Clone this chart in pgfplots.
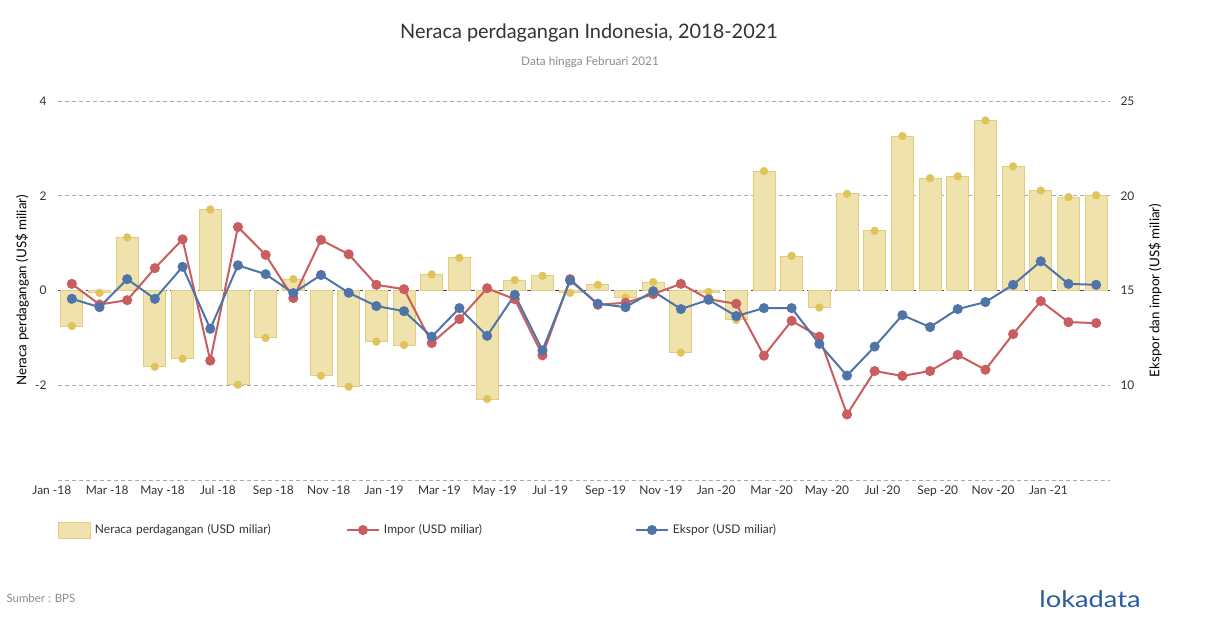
\documentclass[border=0pt]{standalone}
\usepackage{fontspec}
\setmainfont{Lato}
\usepackage{pgfplots}
\usepackage{pgfplotstable}
\pgfplotsset{compat=1.18}
\definecolor{barfill}{HTML}{F0E2AC}
\definecolor{baredge}{HTML}{E2CC80}
\definecolor{bardot}{HTML}{E0C35A}
\definecolor{impred}{HTML}{C95D60}
\definecolor{ekblue}{HTML}{4F75A8}
\definecolor{gridgray}{HTML}{AAAAAA}
\definecolor{txt}{HTML}{333333}
\definecolor{logoblue}{HTML}{2B5C9E}
\pgfplotstableread{
i bal imp eks
0 -0.75 15.35 14.56
1 -0.05 14.26 14.12
2 1.12 14.49 15.60
3 -1.61 16.18 14.56
4 -1.44 17.70 16.25
5 1.71 11.30 12.98
6 -1.99 18.35 16.33
7 -1.00 16.88 15.86
8 0.24 14.60 14.86
9 -1.80 17.67 15.82
10 -2.03 16.91 14.88
11 -1.08 15.30 14.18
12 -1.15 15.07 13.91
13 0.34 12.23 12.56
14 0.69 13.49 14.07
15 -2.29 15.12 12.61
16 0.22 14.54 14.77
17 0.31 11.58 11.84
18 -0.05 15.60 15.53
19 0.12 14.25 14.30
20 -0.15 14.35 14.12
21 0.18 14.81 14.96
22 -1.31 15.35 14.02
23 -0.03 14.54 14.51
24 -0.62 14.30 13.65
25 2.52 11.56 14.07
26 0.73 13.40 14.07
27 -0.36 12.56 12.18
28 2.04 8.46 10.51
29 1.26 10.75 12.04
30 3.26 10.49 13.70
31 2.37 10.75 13.07
32 2.41 11.60 14.02
33 3.59 10.82 14.39
34 2.62 12.70 15.30
35 2.11 14.44 16.54
36 1.97 13.33 15.35
37 2.01 13.28 15.30
}\data
\pgfplotsset{chartbase/.style={
  scale only axis, width=1052bp, height=379bp,
  at={(58bp,148bp)}, anchor=south west,
  xmin=-0.5, xmax=37.5,
  axis line style={draw=none}, major tick length=0pt,
  tick label style={font=\fontsize{12}{14}\selectfont, text=txt},
  /pgf/number format/assume math mode=true,
}}
\pgfplotsset{lineleg/.style={legend image code/.code={\draw[mark repeat=2, mark phase=2, ##1] plot coordinates {(0bp,0bp) (16bp,0bp) (32bp,0bp)};}}}
\pgfplotsset{barleg/.style={legend image code/.code={\draw[fill=barfill, draw=baredge, line width=0.8bp] (0bp,-8bp) rectangle (32bp,8bp);}}}
\begin{document}
\begin{tikzpicture}
\fill[white] (0bp,0bp) rectangle (1210bp,628bp);
\begin{axis}[chartbase,
  ymin=-4, ymax=4,
  ytick={-4,-2,2,4}, yticklabels={{},{-2},{2},{4}},
  extra y ticks={0}, extra y tick labels={0},
  extra y tick style={major grid style={dash pattern=on 4bp off 3bp, black!70, line width=0.8bp}},
  ymajorgrids, major grid style={dash pattern=on 4bp off 3bp, gridgray, line width=0.8bp},
  yticklabel style={xshift=-8bp},
  xtick={0,2,...,36},
  xticklabels={Jan -18, Mar -18, May -18, Jul -18, Sep -18, Nov -18, Jan -19, Mar -19, May -19, Jul -19, Sep -19, Nov -19, Jan -20, Mar -20, May -20, Jul -20, Sep -20, Nov -20, Jan -21},
  xticklabel style={xshift=-20bp, yshift=-2bp},
  every axis y label/.style={at={(axis description cs:-0.0342,0.5)}, rotate=90, anchor=center, font=\fontsize{13.4}{15}\selectfont, text=black},
  ylabel={Neraca perdagangan (US\$ miliar)},
]
\addplot[ybar, bar width=22bp, fill=barfill, draw=baredge, line width=0.8bp] table[x=i,y=bal]{\data};
\addplot[only marks, mark=*, mark size=3.9bp, mark options={fill=bardot, draw=bardot}] table[x=i,y=bal]{\data};
\end{axis}
\begin{axis}[chartbase,
  ymin=5, ymax=25, ytick={10,15,20,25},
  yticklabel pos=right, yticklabel style={xshift=7bp},
  hide x axis,
  every axis y label/.style={at={(axis description cs:1.0428,0.5)}, rotate=90, anchor=center, font=\fontsize{13.4}{15}\selectfont, text=black},
  ylabel={Ekspor dan impor (US\$ miliar)},
  legend columns=3,
  legend cell align=left,
  legend style={at={(axis description cs:0,-0.132)}, anchor=west, draw=none, fill=none, inner sep=0pt,
    font=\fontsize{12}{14}\selectfont, text=txt,
    nodes={text width=242bp, align=left, inner sep=4bp},
    /tikz/every even column/.style={column sep=5bp}},
]
\addlegendimage{barleg}
\addlegendentry{Neraca perdagangan (USD miliar)}
\addplot[impred, line width=2bp, mark=*, mark size=4bp, mark options={fill=impred, draw=impred}, lineleg]
  table[x=i,y=imp]{\data};
\addlegendentry{Impor (USD miliar)}
\addplot[ekblue, line width=2bp, mark=*, mark size=4bp, mark options={fill=ekblue, draw=ekblue}, lineleg]
  table[x=i,y=eks]{\data};
\addlegendentry{Ekspor (USD miliar)}
\end{axis}
\node[font=\fontsize{20}{24}\selectfont, text=txt] at (589bp,595bp) {Neraca perdagangan Indonesia, 2018-2021};
\node[font=\fontsize{11.8}{14}\selectfont, text=black!45] at (590bp,566bp) {Data hingga Februari 2021};
\node[anchor=west, font=\fontsize{11.5}{13}\selectfont, text=black!45] at (3bp,30bp) {Sumber : BPS};
\node[font=\fontsize{23}{26}\selectfont, text=logoblue] at (1090bp,29bp) {\scalebox{1.19}[1]{lokadata}};
\pgfresetboundingbox
\useasboundingbox (0bp,0bp) rectangle (1210bp,628bp);
\end{tikzpicture}
\end{document}
